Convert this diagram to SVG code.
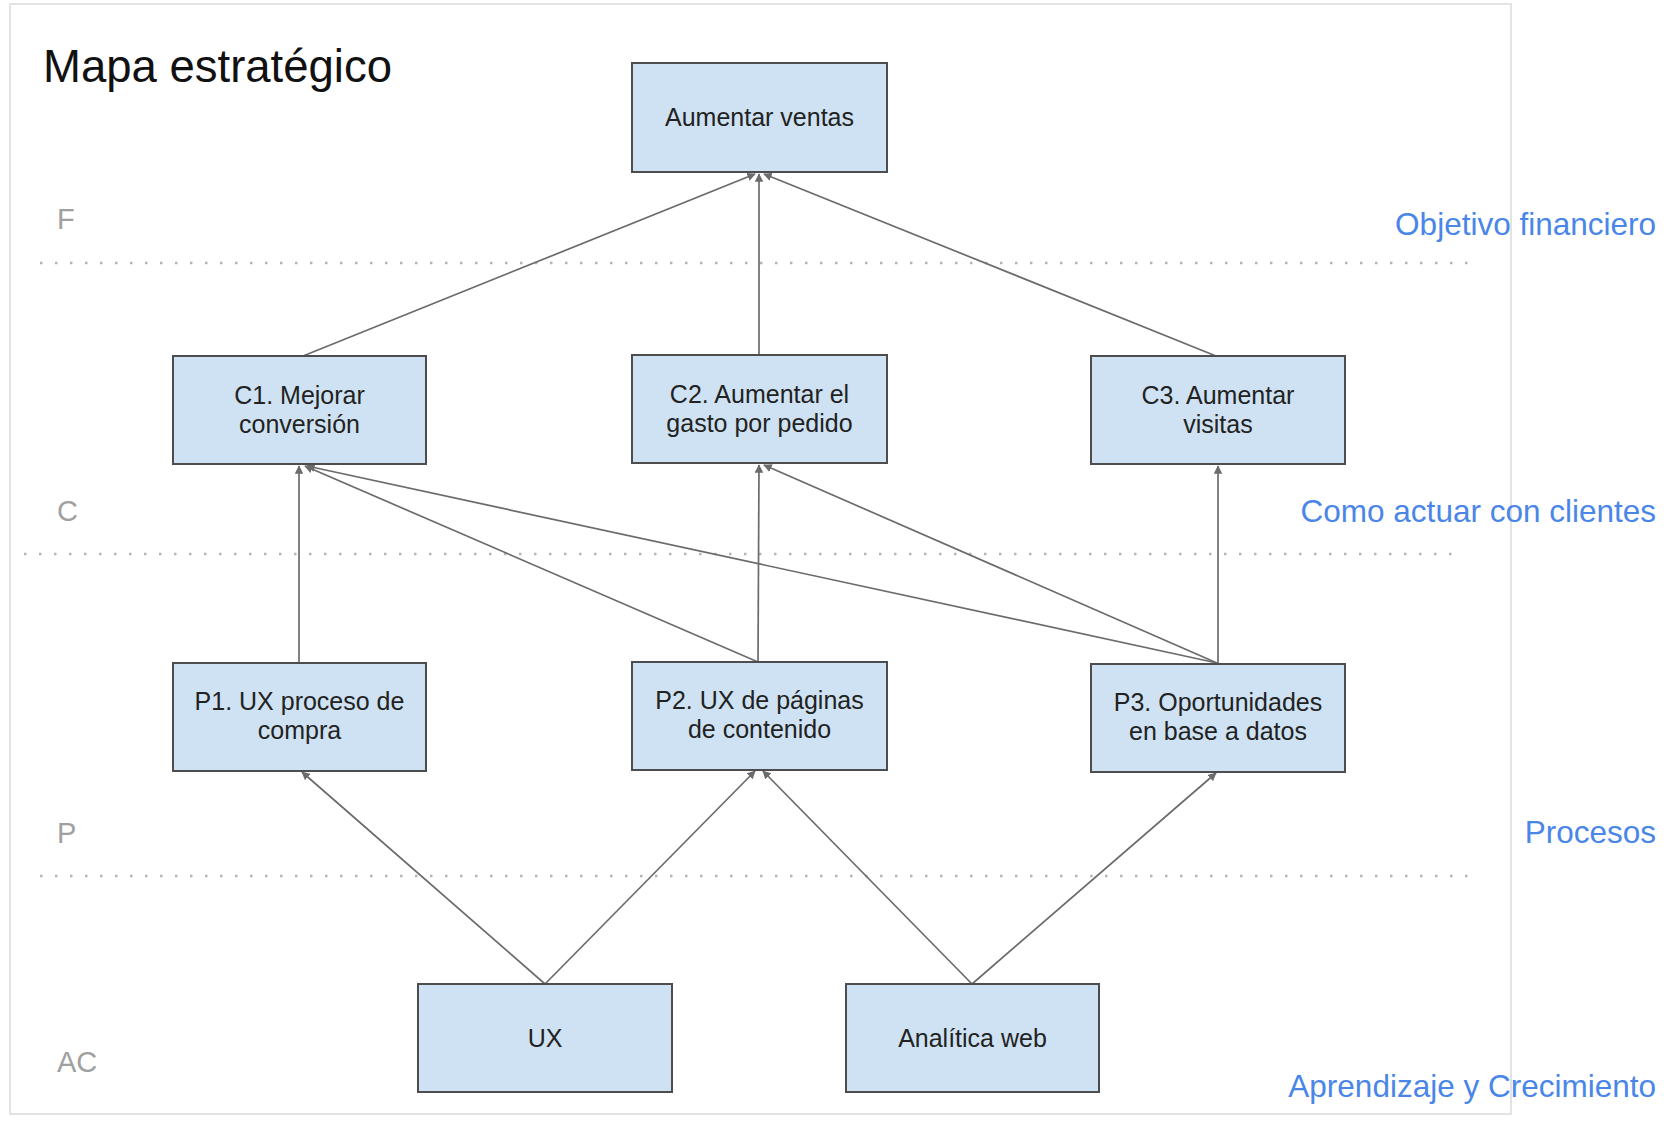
<svg xmlns="http://www.w3.org/2000/svg" width="1677" height="1121" viewBox="0 0 1677 1121">
<defs>
<style>
.frame{fill:none;stroke:#e3e3e3;stroke-width:2}
.dots{stroke:#b5b5b5;stroke-width:2.5;stroke-dasharray:2.5 12.5;fill:none}
.box{fill:#cfe2f3;stroke:#4d4d4d;stroke-width:2}
.t{font-family:"Liberation Sans",Arial,sans-serif;font-size:25px;fill:#222;text-anchor:middle}
.lvl{font-family:"Liberation Sans",Arial,sans-serif;font-size:29px;fill:#a0a0a0}
.side{font-family:"Liberation Sans",Arial,sans-serif;font-size:31.5px;fill:#4a86e8;text-anchor:end}
.title{font-family:"Liberation Sans",Arial,sans-serif;font-size:45.5px;fill:#111}
.c{stroke:#6b6b6b;stroke-width:1.7;fill:none;marker-end:url(#ah)}
</style>
<marker id="ah" viewBox="0 0 10 10" refX="9" refY="5" markerWidth="5" markerHeight="5" markerUnits="strokeWidth" orient="auto">
<path d="M0,0 L10,5 L0,10 z" fill="#6b6b6b"/>
</marker>
</defs>
<rect class="frame" x="10" y="4" width="1501" height="1110"/>
<text class="title" x="43" y="82">Mapa estratégico</text>
<g id="levels">
<text class="lvl" x="57" y="229">F</text>
<text class="lvl" x="57" y="521">C</text>
<text class="lvl" x="57" y="843">P</text>
<text class="lvl" x="57" y="1072">AC</text>
<line class="dots" x1="40" y1="263" x2="1472" y2="263"/>
<line class="dots" x1="24" y1="554" x2="1456" y2="554"/>
<line class="dots" x1="40" y1="876" x2="1472" y2="876"/>
</g>
<g id="side-labels">
<text class="side" x="1656" y="235">Objetivo financiero</text>
<text class="side" x="1656" y="522">Como actuar con clientes</text>
<text class="side" x="1656" y="843">Procesos</text>
<text class="side" x="1656" y="1097">Aprendizaje y Crecimiento</text>
</g>
<g id="connectors">
<line class="c" x1="303" y1="356" x2="755" y2="174"/>
<line class="c" x1="759" y1="355" x2="759" y2="174"/>
<line class="c" x1="1216" y1="356" x2="764" y2="174"/>
<line class="c" x1="299" y1="662" x2="299" y2="466"/>
<line class="c" x1="758" y1="662" x2="305" y2="466"/>
<line class="c" x1="1217" y1="663" x2="307" y2="466"/>
<line class="c" x1="758" y1="662" x2="759" y2="465"/>
<line class="c" x1="1217" y1="663" x2="764" y2="465"/>
<line class="c" x1="1218" y1="663" x2="1218" y2="466"/>
<line class="c" x1="545" y1="984" x2="302" y2="772"/>
<line class="c" x1="545" y1="984" x2="755" y2="771"/>
<line class="c" x1="972" y1="984" x2="763" y2="771"/>
<line class="c" x1="972" y1="984" x2="1216" y2="773"/>
</g>
<g id="n-ventas"><rect class="box" x="632" y="63" width="255" height="109"/><text class="t" x="759.5" y="126">Aumentar ventas</text></g>
<g id="n-c1"><rect class="box" x="173" y="356" width="253" height="108"/><text class="t" x="299.5" y="404">C1. Mejorar</text><text class="t" x="299.5" y="433">conversión</text></g>
<g id="n-c2"><rect class="box" x="632" y="355" width="255" height="108"/><text class="t" x="759.5" y="403">C2. Aumentar el</text><text class="t" x="759.5" y="432">gasto por pedido</text></g>
<g id="n-c3"><rect class="box" x="1091" y="356" width="254" height="108"/><text class="t" x="1218" y="404">C3. Aumentar</text><text class="t" x="1218" y="433">visitas</text></g>
<g id="n-p1"><rect class="box" x="173" y="663" width="253" height="108"/><text class="t" x="299.5" y="710">P1. UX proceso de</text><text class="t" x="299.5" y="739">compra</text></g>
<g id="n-p2"><rect class="box" x="632" y="662" width="255" height="108"/><text class="t" x="759.5" y="709">P2. UX de páginas</text><text class="t" x="759.5" y="738">de contenido</text></g>
<g id="n-p3"><rect class="box" x="1091" y="664" width="254" height="108"/><text class="t" x="1218" y="711">P3. Oportunidades</text><text class="t" x="1218" y="740">en base a datos</text></g>
<g id="n-ux"><rect class="box" x="418" y="984" width="254" height="108"/><text class="t" x="545" y="1047">UX</text></g>
<g id="n-analitica"><rect class="box" x="846" y="984" width="253" height="108"/><text class="t" x="972.5" y="1047">Analítica web</text></g>
</svg>
